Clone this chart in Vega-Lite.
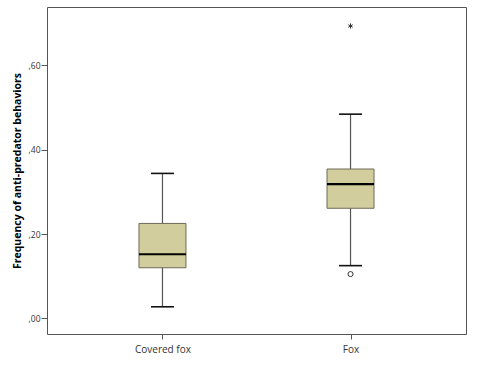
{
  "$schema": "https://vega.github.io/schema/vega-lite/v6.json",
  "width": 419,
  "height": 327,
  "autosize": "none",
  "padding": {"left": 47, "top": 7, "right": 17, "bottom": 39},
  "background": "white",
  "config": {
    "view": {"stroke": "#555555", "strokeWidth": 1},
    "axis": {"grid": false, "domain": false, "tickColor": "#555555", "labelColor": "#333333", "labelFont": "Open Sans"}
  },
  "datasets": {
    "boxes": [
      {"group": "Covered fox", "lower": 0.0275, "q1": 0.120, "median": 0.152, "q3": 0.225, "upper": 0.3436},
      {"group": "Fox", "lower": 0.125, "q1": 0.261, "median": 0.318, "q3": 0.354, "upper": 0.484}
    ],
    "outliers": [
      {"group": "Fox", "value": 0.105, "kind": "outlier"},
      {"group": "Fox", "value": 0.693, "kind": "extreme"}
    ]
  },
  "layer": [
    {
      "data": {"name": "boxes"},
      "mark": {"type": "rule", "color": "#555555", "strokeWidth": 1.2},
      "encoding": {
        "x": {"field": "group", "type": "nominal", "scale": {"type": "point", "padding": 0.614}, "axis": {"title": null, "labelAngle": 0, "labelFontSize": 10, "tickSize": 5, "labelPadding": 5}},
        "y": {"field": "lower", "type": "quantitative", "scale": {"domain": [-0.037, 0.738], "nice": false, "zero": false}, "title": "Frequency of anti-predator behaviors",
          "axis": {"values": [0, 0.2, 0.4, 0.6], "labelExpr": "replace(format(datum.value, '.2f'), '0.', ',')", "labelFontSize": 8.5, "tickSize": 6, "labelPadding": 1, "titleFont": "Open Sans", "titleFontSize": 10.5, "titleFontWeight": "bold", "titleColor": "#000000", "titlePadding": 6}},
        "y2": {"field": "upper"}
      }
    },
    {
      "data": {"name": "boxes"},
      "mark": {"type": "tick", "color": "#111111", "opacity": 1, "size": 23, "thickness": 1.6},
      "encoding": {
        "x": {"field": "group", "type": "nominal"},
        "y": {"field": "lower", "type": "quantitative", "title": "Frequency of anti-predator behaviors"}
      }
    },
    {
      "data": {"name": "boxes"},
      "mark": {"type": "tick", "color": "#111111", "opacity": 1, "size": 23, "thickness": 1.6},
      "encoding": {
        "x": {"field": "group", "type": "nominal"},
        "y": {"field": "upper", "type": "quantitative", "title": "Frequency of anti-predator behaviors"}
      }
    },
    {
      "data": {"name": "boxes"},
      "mark": {"type": "bar", "size": 47, "fill": "#d2cd9c", "stroke": "#6e6a55", "strokeWidth": 1},
      "encoding": {
        "x": {"field": "group", "type": "nominal"},
        "y": {"field": "q1", "type": "quantitative", "title": "Frequency of anti-predator behaviors"},
        "y2": {"field": "q3"}
      }
    },
    {
      "data": {"name": "boxes"},
      "mark": {"type": "tick", "color": "#000000", "opacity": 1, "size": 47, "thickness": 2.2},
      "encoding": {
        "x": {"field": "group", "type": "nominal"},
        "y": {"field": "median", "type": "quantitative", "title": "Frequency of anti-predator behaviors"}
      }
    },
    {
      "data": {"name": "outliers"},
      "mark": {"type": "point", "filled": false, "stroke": "#333333", "strokeWidth": 1, "opacity": 1},
      "encoding": {
        "x": {"field": "group", "type": "nominal"},
        "y": {"field": "value", "type": "quantitative", "title": "Frequency of anti-predator behaviors"},
        "shape": {"field": "kind", "type": "nominal", "legend": null,
          "scale": {"domain": ["outlier", "extreme"], "range": ["circle", "M0,-1L0,1M-0.87,-0.5L0.87,0.5M-0.87,0.5L0.87,-0.5"]}},
        "size": {"value": 26}
      }
    }
  ]
}
